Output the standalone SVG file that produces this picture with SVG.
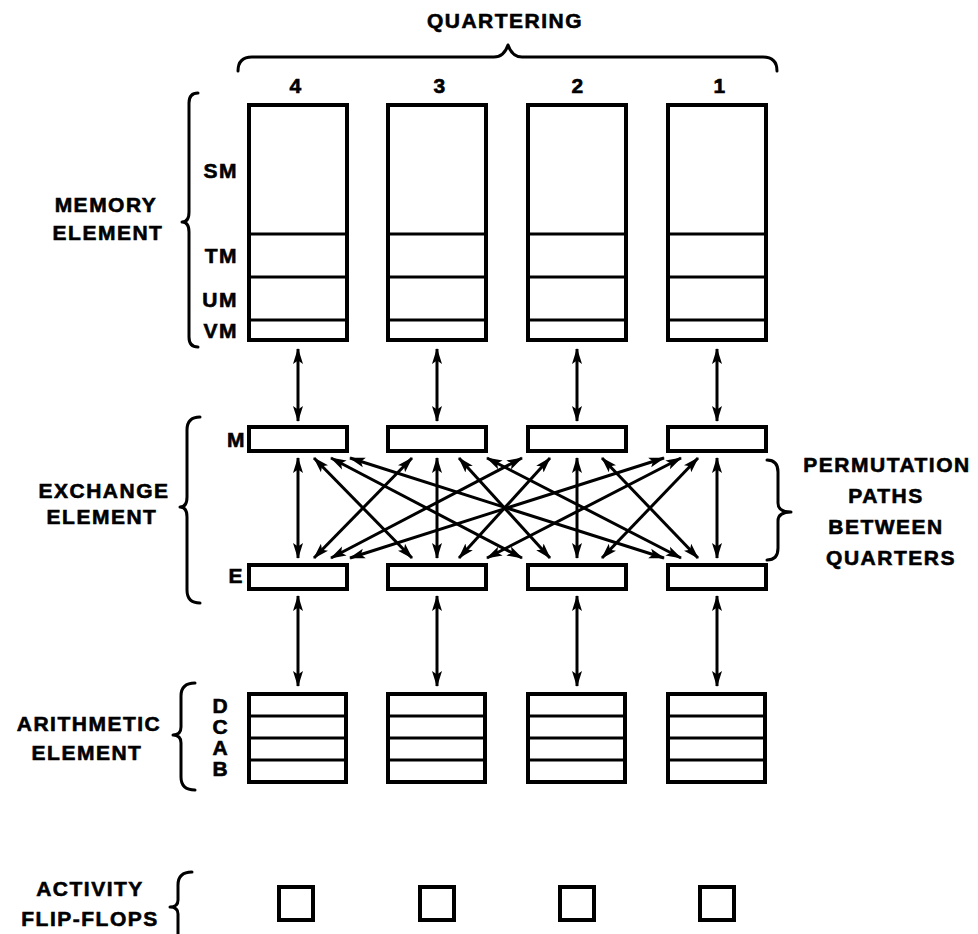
<svg xmlns="http://www.w3.org/2000/svg" width="978" height="934" viewBox="0 0 978 934">
<style>
text{font-family:"Liberation Sans",Arial,sans-serif;font-weight:bold;font-size:21px;fill:#000;letter-spacing:1.5px;stroke:#000;stroke-width:0.6}
.c{text-anchor:middle}
.e{text-anchor:end}
.box{fill:#fff;stroke:#000;stroke-width:4}
.div{stroke:#000;stroke-width:3.2}
.br{fill:none;stroke:#000;stroke-width:3;stroke-linecap:round;stroke-linejoin:round}
.ar{stroke:#000;stroke-width:3;fill:none;marker-start:url(#ah);marker-end:url(#ah)}
</style>
<defs>
<marker id="ah" viewBox="0 0 16 11" refX="15" refY="5.5" markerWidth="16" markerHeight="11" markerUnits="userSpaceOnUse" orient="auto-start-reverse">
<path d="M0,0.5 L16,5.5 L0,10.5 L3.5,5.5 Z" fill="#000"/>
</marker>
</defs>
<rect width="978" height="934" fill="#fff"/>

<g id="labels">
<text class="c" x="505" y="28">QUARTERING</text>
<path class="br" d="M238,71 Q238,57 252,57 L494,57 Q504,57 508,45 Q512,57 522,57 L763,57 Q777,57 777,71"/>
<text class="c" x="296" y="93">4</text>
<text class="c" x="440" y="93">3</text>
<text class="c" x="578" y="93">2</text>
<text class="c" x="720" y="93">1</text>
</g>

<g id="memory-element">
<text class="c" x="106" y="212">MEMORY</text>
<text class="c" x="108" y="240">ELEMENT</text>
<path class="br" d="M198,93 Q189,93 189,103 L189,212 Q189,222 182,222 Q189,222 189,232 L189,337 Q189,347 198,347"/>
<text class="e" x="238" y="178">SM</text>
<text class="e" x="238" y="263">TM</text>
<text class="e" x="238" y="307">UM</text>
<text class="e" x="238" y="338">VM</text>
</g>

<g id="mem4">
<rect class="box" x="249" y="105" width="98" height="235"/>
<line class="div" x1="249" y1="234" x2="347" y2="234"/><line class="div" x1="249" y1="277" x2="347" y2="277"/><line class="div" x1="249" y1="320" x2="347" y2="320"/>
</g>
<g id="mem3">
<rect class="box" x="388" y="105" width="98" height="235"/>
<line class="div" x1="388" y1="234" x2="486" y2="234"/><line class="div" x1="388" y1="277" x2="486" y2="277"/><line class="div" x1="388" y1="320" x2="486" y2="320"/>
</g>
<g id="mem2">
<rect class="box" x="528" y="105" width="98" height="235"/>
<line class="div" x1="528" y1="234" x2="626" y2="234"/><line class="div" x1="528" y1="277" x2="626" y2="277"/><line class="div" x1="528" y1="320" x2="626" y2="320"/>
</g>
<g id="mem1">
<rect class="box" x="668" y="105" width="98" height="235"/>
<line class="div" x1="668" y1="234" x2="766" y2="234"/><line class="div" x1="668" y1="277" x2="766" y2="277"/><line class="div" x1="668" y1="320" x2="766" y2="320"/>
</g>

<g id="exchange-element">
<text class="c" x="104" y="498">EXCHANGE</text>
<text class="c" x="102" y="524">ELEMENT</text>
<path class="br" d="M200,417 Q187,417 187,430 L187,497 Q187,507 180,507 Q187,507 187,517 L187,590 Q187,603 200,603"/>
<text class="e" x="246" y="447">M</text>
<text class="e" x="244" y="583">E</text>
</g>
<g id="m4"><rect class="box" x="249" y="427" width="98" height="24"/></g>
<g id="m3"><rect class="box" x="388" y="427" width="98" height="24"/></g>
<g id="m2"><rect class="box" x="528" y="427" width="98" height="24"/></g>
<g id="m1"><rect class="box" x="668" y="427" width="98" height="24"/></g>
<g id="e4"><rect class="box" x="249" y="565" width="98" height="24"/></g>
<g id="e3"><rect class="box" x="388" y="565" width="98" height="24"/></g>
<g id="e2"><rect class="box" x="528" y="565" width="98" height="24"/></g>
<g id="e1"><rect class="box" x="668" y="565" width="98" height="24"/></g>

<g id="permutation-label">
<path class="br" d="M767,460 Q778,460 778,472 L778,503 Q778,512 791,512 Q778,512 778,521 L778,548 Q778,560 767,560"/>
<text class="c" x="887" y="472">PERMUTATION</text>
<text class="c" x="886" y="503">PATHS</text>
<text class="c" x="886" y="534">BETWEEN</text>
<text class="c" x="891" y="565">QUARTERS</text>
</g>

<g id="arithmetic-element">
<text class="c" x="89" y="731">ARITHMETIC</text>
<text class="c" x="87" y="760">ELEMENT</text>
<path class="br" d="M195,683 Q181,683 181,696 L181,727 Q181,735 173,735 Q181,735 181,743 L181,777 Q181,790 195,790"/>
<text class="c" x="220" y="713" style="letter-spacing:0">D</text>
<text class="c" x="220" y="734" style="letter-spacing:0">C</text>
<text class="c" x="220" y="755" style="letter-spacing:0">A</text>
<text class="c" x="220" y="776" style="letter-spacing:0">B</text>
</g>
<g id="a4"><rect class="box" x="249" y="694" width="97" height="88"/><line class="div" x1="249" y1="716" x2="346" y2="716"/><line class="div" x1="249" y1="738" x2="346" y2="738"/><line class="div" x1="249" y1="760" x2="346" y2="760"/></g>
<g id="a3"><rect class="box" x="388" y="694" width="97" height="88"/><line class="div" x1="388" y1="716" x2="485" y2="716"/><line class="div" x1="388" y1="738" x2="485" y2="738"/><line class="div" x1="388" y1="760" x2="485" y2="760"/></g>
<g id="a2"><rect class="box" x="528" y="694" width="97" height="88"/><line class="div" x1="528" y1="716" x2="625" y2="716"/><line class="div" x1="528" y1="738" x2="625" y2="738"/><line class="div" x1="528" y1="760" x2="625" y2="760"/></g>
<g id="a1"><rect class="box" x="668" y="694" width="97" height="88"/><line class="div" x1="668" y1="716" x2="765" y2="716"/><line class="div" x1="668" y1="738" x2="765" y2="738"/><line class="div" x1="668" y1="760" x2="765" y2="760"/></g>

<g id="activity-flip-flops">
<text class="c" x="90" y="896">ACTIVITY</text>
<text class="c" x="90" y="926">FLIP-FLOPS</text>
<path class="br" d="M192,872 Q178,872 178,885 L178,900 Q178,907 170,907 Q178,907 178,914 L178,934"/>
</g>
<g id="f4"><rect class="box" x="279" y="887" width="34" height="33"/></g>
<g id="f3"><rect class="box" x="420" y="887" width="34" height="33"/></g>
<g id="f2"><rect class="box" x="560" y="887" width="34" height="33"/></g>
<g id="f1"><rect class="box" x="700" y="887" width="34" height="33"/></g>

<g id="connectors">
<line class="ar" x1="298" y1="349" x2="298" y2="421"/>
<line class="ar" x1="437" y1="349" x2="437" y2="421"/>
<line class="ar" x1="577" y1="349" x2="577" y2="421"/>
<line class="ar" x1="717" y1="349" x2="717" y2="421"/>

<line class="ar" x1="298" y1="458" x2="298" y2="558"/>
<line class="ar" x1="437" y1="458" x2="437" y2="558"/>
<line class="ar" x1="577" y1="458" x2="577" y2="558"/>
<line class="ar" x1="717" y1="458" x2="717" y2="558"/>

<line class="ar" x1="314" y1="458" x2="412" y2="558"/>
<line class="ar" x1="331" y1="458" x2="522" y2="558"/>
<line class="ar" x1="350" y1="458" x2="664" y2="558"/>
<line class="ar" x1="412" y1="458" x2="314" y2="558"/>
<line class="ar" x1="459" y1="458" x2="550" y2="558"/>
<line class="ar" x1="487" y1="458" x2="681" y2="558"/>
<line class="ar" x1="522" y1="458" x2="331" y2="558"/>
<line class="ar" x1="550" y1="458" x2="459" y2="558"/>
<line class="ar" x1="602" y1="458" x2="698" y2="558"/>
<line class="ar" x1="664" y1="458" x2="350" y2="558"/>
<line class="ar" x1="681" y1="458" x2="487" y2="558"/>
<line class="ar" x1="698" y1="458" x2="602" y2="558"/>

<line class="ar" x1="298" y1="596" x2="298" y2="686"/>
<line class="ar" x1="437" y1="596" x2="437" y2="686"/>
<line class="ar" x1="577" y1="596" x2="577" y2="686"/>
<line class="ar" x1="717" y1="596" x2="717" y2="686"/>
</g>
</svg>
